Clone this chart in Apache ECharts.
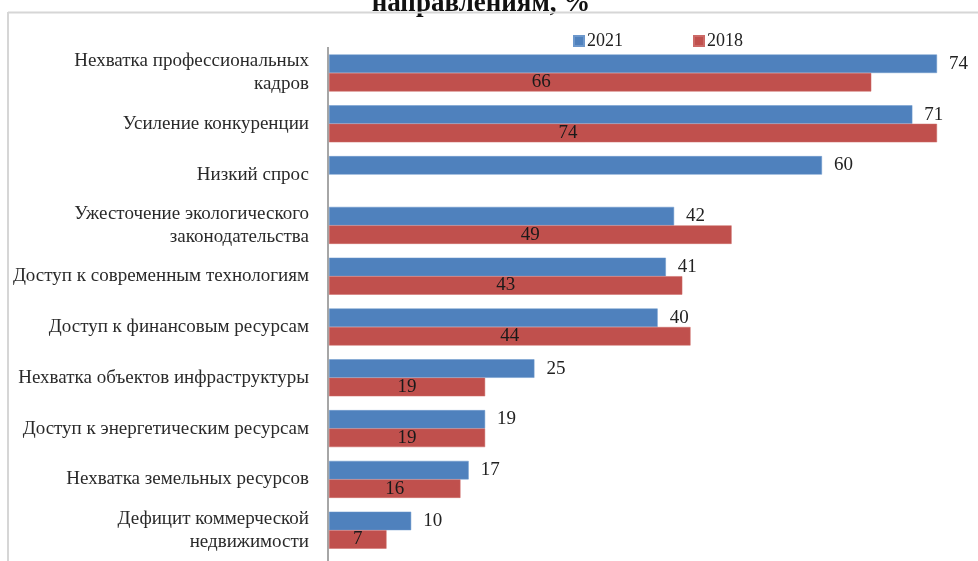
<!DOCTYPE html>
<html>
<head>
<meta charset="utf-8">
<script src="https://cdn.jsdelivr.net/npm/echarts@6/dist/echarts.min.js"></script>
<style>html,body{margin:0;padding:0;background:#fff}#c{width:978px;height:561px}</style>
</head>
<body>
<div id="c"></div>
<script>
const categories = [
  'Нехватка профессиональных\nкадров',
  'Усиление конкуренции',
  'Низкий спрос',
  'Ужесточение экологического\nзаконодательства',
  'Доступ к современным технологиям',
  'Доступ к финансовым ресурсам',
  'Нехватка объектов инфраструктуры',
  'Доступ к энергетическим ресурсам',
  'Нехватка земельных ресурсов',
  'Дефицит коммерческой\nнедвижимости'
];
const values2021 = [74, 71, 60, 42, 41, 40, 25, 19, 17, 10];
const values2018 = [66, 74, null, 49, 43, 44, 19, 19, 16, 7];
const seriesNames = ['2021', '2018'];
const titleText = 'направлениям, %';

const FONT = 'Liberation Serif';
const labelShift = {0: -59, 1: -65};
const data2018 = values2018.map((v, i) => labelShift[i] !== undefined
  ? {value: v, label: {offset: [labelShift[i], 0]}} : v);

const chart = echarts.init(document.getElementById('c'));
chart.setOption({
  animation: false,
  textStyle: {fontFamily: FONT},
  graphic: [
    {type: 'text', style: {text: titleText, x: 481, y: 17.5, align: 'center', verticalAlign: 'bottom',
      font: 'bold 27px "Liberation Serif"', fill: '#111'}},
    {type: 'line', shape: {x1: 8, y1: 12.5, x2: 978, y2: 12.5}, style: {stroke: '#d6d6d6', lineWidth: 2}},
    {type: 'line', shape: {x1: 8, y1: 12, x2: 8, y2: 561}, style: {stroke: '#d6d6d6', lineWidth: 2}},
    {type: 'line', shape: {x1: 328, y1: 47, x2: 328, y2: 561}, style: {stroke: '#a6a6a6', lineWidth: 2}}
  ],
  legend: {
    left: 568, top: 27,
    itemWidth: 10, itemHeight: 10, itemGap: 70,
    icon: 'rect',
    textStyle: {fontFamily: FONT, fontSize: 18, color: '#222', padding: [0, 0, 0, -2]},
    data: seriesNames
  },
  grid: {left: 329, top: 47.6, width: 608, height: 508, containLabel: false},
  xAxis: {type: 'value', min: 0, max: 74, show: false},
  yAxis: {
    type: 'category', data: categories, inverse: true,
    axisLine: {show: false},
    axisTick: {show: false},
    axisLabel: {fontFamily: FONT, fontSize: 19, color: '#2a2a2a', margin: 20, lineHeight: 23, align: 'right'}
  },
  series: [
    {name: seriesNames[0], type: 'bar', data: values2021, barWidth: 18.5, barGap: '0%',
      itemStyle: {color: '#4F81BD', borderColor: '#6d98cc', borderWidth: 0.5},
      label: {show: true, position: 'right', distance: 12, fontFamily: FONT, fontSize: 19, color: '#222'}},
    {name: seriesNames[1], type: 'bar', data: data2018, barWidth: 18.5, barGap: '0%',
      itemStyle: {color: '#C0504D', borderColor: '#cc6a67', borderWidth: 0.5},
      label: {show: true, position: 'inside', fontFamily: FONT, fontSize: 19, color: '#1a1a1a'}}
  ]
});
</script>
</body>
</html>
